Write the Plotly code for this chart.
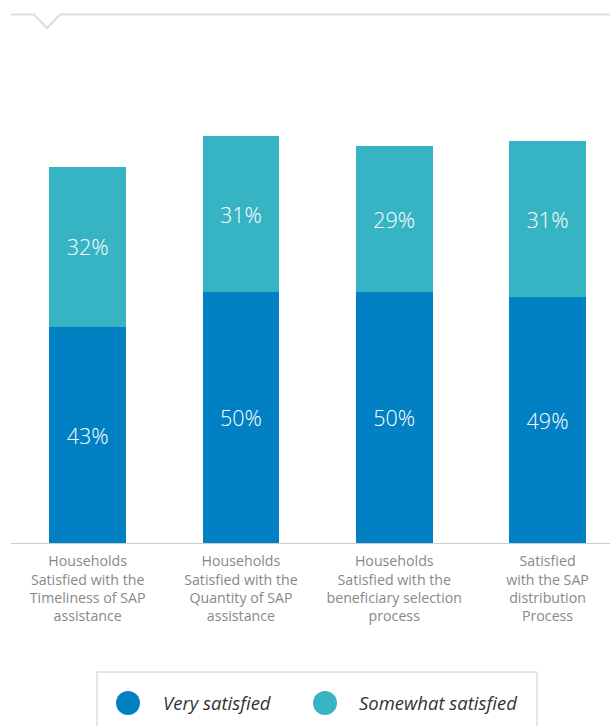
import plotly.graph_objects as go

# Survey results (% of households)
categories = [
    "Households<br>Satisfied with the<br>Timeliness of SAP<br>assistance",
    "Households<br>Satisfied with the<br>Quantity of SAP<br>assistance",
    "Households<br>Satisfied with the<br>beneficiary selection<br>process",
    "Satisfied<br>with the SAP<br>distribution<br>Process",
]
series_names = ["Very satisfied", "Somewhat satisfied"]
very_satisfied = [43, 50, 50, 49]
somewhat_satisfied = [32, 31, 29, 31]
colors = ["#0180C4", "#37B4C3"]

W, H = 610, 726
M_L, M_R, M_T, M_B = 11, 0, 14, 183
plot_w = W - M_L - M_R
plot_h = H - M_T - M_B


def px_x(px):
    return (px - M_L) / plot_w


def px_y(py):
    return (H - M_B - py) / plot_h


fig = go.Figure()
for name, vals, col in zip(series_names, [very_satisfied, somewhat_satisfied], colors):
    fig.add_trace(go.Bar(
        x=list(range(len(categories))),
        y=vals,
        name=name,
        marker=dict(color=col, line=dict(width=0)),
        text=[f"{v}%" for v in vals],
        textposition="inside",
        insidetextanchor="middle",
        textfont=dict(family="Open Sans", size=21.5, color="white", weight=300),
        constraintext="none",
        showlegend=False,
        hoverinfo="skip",
    ))

shapes = []
# Callout rule with a small notch along the top
notch = [(11, 14.5), (34, 14.5), (47, 28), (60, 14.5), (610, 14.5)]
path = "M " + " L ".join(f"{px_x(a):.5f},{px_y(b):.5f}" for a, b in notch)
shapes.append(dict(type="path", path=path, xref="paper", yref="paper",
                   line=dict(color="#DDDDDD", width=2)))

# Legend frame with circular swatches
shapes.append(dict(type="rect", xref="paper", yref="paper",
                   x0=px_x(97), x1=px_x(537), y0=px_y(740), y1=px_y(672),
                   line=dict(color="#CCCCCC", width=1), fillcolor="rgba(0,0,0,0)"))
annotations = []
for name, col, cx, tx in zip(series_names, colors, [128, 325], [161, 357]):
    shapes.append(dict(type="circle", xref="paper", yref="paper",
                       x0=px_x(cx - 12), x1=px_x(cx + 12),
                       y0=px_y(715), y1=px_y(691),
                       fillcolor=col, line=dict(width=0)))
    annotations.append(dict(text=name, xref="paper", yref="paper",
                            x=px_x(tx), y=px_y(702.5), xanchor="left", yanchor="middle",
                            showarrow=False,
                            font=dict(family="Open Sans", size=18.5, color="#333333",
                                      style="italic")))

fig.update_layout(
    width=W, height=H,
    margin=dict(l=M_L, r=M_R, t=M_T, b=M_B),
    barmode="stack",
    bargap=0.5,
    plot_bgcolor="white",
    paper_bgcolor="white",
    font=dict(family="Open Sans"),
    shapes=shapes,
    annotations=annotations,
    xaxis=dict(
        tickmode="array",
        tickvals=list(range(len(categories))),
        ticktext=categories,
        range=[-0.5, -0.5 + plot_w / 153.3],
        showline=True, linecolor="#CCCCCC", linewidth=1,
        showgrid=False, zeroline=False, ticks="",
        tickfont=dict(family="Open Sans", size=14.2, color="#888888"),
        ticklabelstandoff=5,
    ),
    yaxis=dict(
        range=[0, plot_h / 5.02],
        visible=False,
        showgrid=False, zeroline=False,
    ),
)

fig.write_html("out.html")
